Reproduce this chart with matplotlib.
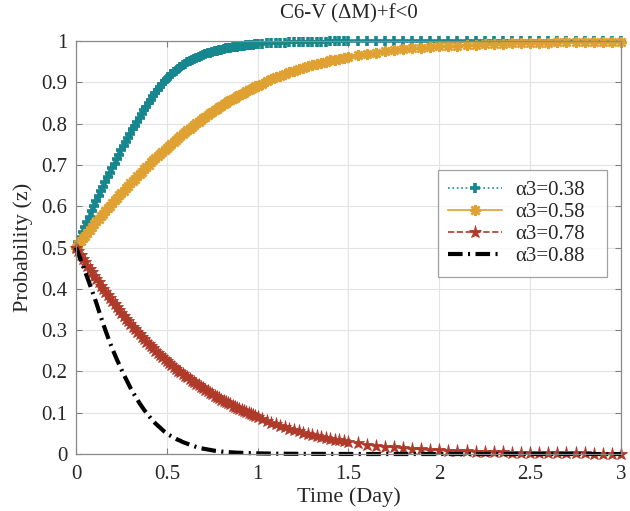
import numpy as np
import matplotlib
matplotlib.use("Agg")
import matplotlib.pyplot as plt
from matplotlib.ticker import FuncFormatter

plt.rcParams['font.family'] = ['Liberation Serif', 'DejaVu Serif']

title = "C6-V (ΔM)+f<0"
xlabel = "Time (Day)"
ylabel = "Probability (z)"
labels = ["α3=0.38", "α3=0.58", "α3=0.78", "α3=0.88"]

t = [0.0, 0.0125, 0.025, 0.0375, 0.05, 0.0625, 0.075, 0.0875, 0.1, 0.1125,
     0.125, 0.1375, 0.15, 0.1625, 0.175, 0.1875, 0.2, 0.2125, 0.225, 0.2375,
     0.25, 0.2625, 0.275, 0.2875, 0.3, 0.3125, 0.325, 0.3375, 0.35, 0.3625,
     0.375, 0.3875, 0.4, 0.4125, 0.425, 0.4375, 0.45, 0.4625, 0.475, 0.4875,
     0.5, 0.5125, 0.525, 0.5375, 0.55, 0.5625, 0.575, 0.5875, 0.6, 0.6125,
     0.625, 0.6375, 0.65, 0.6625, 0.675, 0.6875, 0.7, 0.7125, 0.725, 0.7375,
     0.75, 0.7625, 0.775, 0.7875, 0.8, 0.8125, 0.825, 0.8375, 0.85, 0.8625,
     0.875, 0.8875, 0.9, 0.9125, 0.925, 0.9375, 0.95, 0.9625, 0.975, 0.9875,
     1.0, 1.025, 1.05, 1.075, 1.1, 1.125, 1.15, 1.175, 1.2, 1.225,
     1.25, 1.275, 1.3, 1.325, 1.35, 1.375, 1.4, 1.425, 1.45, 1.475,
     1.5, 1.55, 1.6, 1.65, 1.7, 1.75, 1.8, 1.85, 1.9, 1.95,
     2.0, 2.05, 2.1, 2.15, 2.2, 2.25, 2.3, 2.35, 2.4, 2.45,
     2.5, 2.55, 2.6, 2.65, 2.7, 2.75, 2.8, 2.85, 2.9, 2.95, 3.0]

z_038 = [0.5, 0.5125, 0.525, 0.5375, 0.55, 0.5625, 0.575, 0.5875, 0.6, 0.612,
         0.624, 0.636, 0.647, 0.659, 0.67, 0.681, 0.692, 0.703, 0.714, 0.725,
         0.736, 0.746, 0.756, 0.766, 0.776, 0.786, 0.795, 0.805, 0.814, 0.823,
         0.832, 0.841, 0.85, 0.858, 0.866, 0.874, 0.882, 0.889, 0.896, 0.902,
         0.908, 0.914, 0.919, 0.924, 0.928, 0.933, 0.937, 0.941, 0.944, 0.948,
         0.951, 0.954, 0.956, 0.959, 0.961, 0.964, 0.966, 0.968, 0.970, 0.972,
         0.973, 0.975, 0.976, 0.978, 0.979, 0.981, 0.982, 0.983, 0.984, 0.985,
         0.986, 0.9865, 0.987, 0.988, 0.989, 0.9895, 0.990, 0.9905, 0.991, 0.9915,
         0.992, 0.993, 0.994, 0.9945, 0.995, 0.9955, 0.996, 0.9965, 0.997, 0.9972,
         0.9975, 0.9978, 0.998, 0.9982, 0.9985, 0.9987, 0.999, 0.999, 0.999, 0.9992,
         0.9993, 0.9995, 0.9996, 0.9997, 0.9998, 0.9998, 0.9999, 0.9999, 0.9999, 0.9999,
         1.0, 1.0, 1.0, 1.0, 1.0, 1.0, 1.0, 1.0, 1.0, 1.0,
         1.0, 1.0, 1.0, 1.0, 1.0, 1.0, 1.0, 1.0, 1.0, 1.0, 1.0]

z_058 = [0.5, 0.508, 0.515, 0.522, 0.529, 0.536, 0.543, 0.55, 0.556, 0.563,
         0.569, 0.576, 0.582, 0.589, 0.595, 0.601, 0.607, 0.614, 0.62, 0.626,
         0.632, 0.638, 0.644, 0.65, 0.655, 0.661, 0.667, 0.673, 0.678, 0.684,
         0.689, 0.695, 0.70, 0.706, 0.711, 0.716, 0.721, 0.726, 0.731, 0.736,
         0.741, 0.746, 0.751, 0.756, 0.761, 0.766, 0.770, 0.775, 0.779, 0.784,
         0.788, 0.792, 0.796, 0.801, 0.805, 0.809, 0.813, 0.817, 0.821, 0.825,
         0.828, 0.832, 0.836, 0.840, 0.843, 0.847, 0.850, 0.854, 0.857, 0.860,
         0.863, 0.866, 0.869, 0.872, 0.875, 0.878, 0.881, 0.884, 0.887, 0.890,
         0.892, 0.897, 0.902, 0.907, 0.912, 0.916, 0.920, 0.924, 0.928, 0.932,
         0.935, 0.939, 0.942, 0.945, 0.947, 0.950, 0.953, 0.955, 0.957, 0.960,
         0.962, 0.965, 0.969, 0.972, 0.975, 0.977, 0.980, 0.982, 0.984, 0.985,
         0.987, 0.988, 0.989, 0.990, 0.991, 0.992, 0.993, 0.9935, 0.994, 0.9948,
         0.9953, 0.9958, 0.9962, 0.9966, 0.997, 0.9973, 0.9976, 0.9978, 0.998, 0.9982, 0.9984]

z_078 = [0.5, 0.491, 0.482, 0.473, 0.465, 0.456, 0.448, 0.44, 0.432, 0.424,
         0.416, 0.408, 0.40, 0.392, 0.385, 0.377, 0.37, 0.363, 0.356, 0.349,
         0.342, 0.335, 0.328, 0.321, 0.315, 0.308, 0.302, 0.296, 0.29, 0.284,
         0.278, 0.272, 0.267, 0.261, 0.256, 0.25, 0.245, 0.24, 0.235, 0.23,
         0.225, 0.22, 0.216, 0.211, 0.207, 0.202, 0.198, 0.194, 0.19, 0.186,
         0.182, 0.178, 0.174, 0.17, 0.166, 0.162, 0.159, 0.155, 0.152, 0.148,
         0.145, 0.141, 0.138, 0.135, 0.132, 0.129, 0.126, 0.123, 0.12, 0.117,
         0.114, 0.111, 0.109, 0.106, 0.104, 0.101, 0.099, 0.096, 0.094, 0.091,
         0.089, 0.084, 0.080, 0.076, 0.072, 0.068, 0.065, 0.061, 0.058, 0.055,
         0.052, 0.049, 0.046, 0.044, 0.041, 0.039, 0.037, 0.035, 0.033, 0.031,
         0.029, 0.026, 0.023, 0.020, 0.018, 0.016, 0.014, 0.0125, 0.011, 0.010,
         0.009, 0.008, 0.007, 0.0062, 0.0055, 0.0049, 0.0043, 0.0038, 0.0034, 0.003,
         0.0027, 0.0024, 0.0021, 0.0019, 0.0017, 0.0015, 0.0013, 0.0012, 0.0011, 0.001, 0.0009]

z_088 = [0.5, 0.486, 0.471, 0.457, 0.442, 0.427, 0.412, 0.397, 0.381, 0.365,
         0.348, 0.331, 0.315, 0.299, 0.284, 0.269, 0.255, 0.242, 0.229, 0.217,
         0.205, 0.193, 0.182, 0.171, 0.16, 0.15, 0.141, 0.132, 0.123, 0.115,
         0.107, 0.1, 0.093, 0.086, 0.08, 0.074, 0.069, 0.064, 0.059, 0.054,
         0.05, 0.046, 0.043, 0.04, 0.037, 0.034, 0.032, 0.029, 0.027, 0.025,
         0.023, 0.021, 0.019, 0.017, 0.016, 0.014, 0.013, 0.012, 0.011, 0.01,
         0.009, 0.008, 0.0075, 0.0068, 0.006, 0.0055, 0.005, 0.0046, 0.0042, 0.0038,
         0.0035, 0.0032, 0.003, 0.0027, 0.0024, 0.0022, 0.002, 0.0018, 0.0017, 0.0016,
         0.0015, 0.0013, 0.0011, 0.001, 0.0008, 0.0007, 0.0006, 0.0006, 0.0005, 0.0005,
         0.0004, 0.0004, 0.0003, 0.0003, 0.0002, 0.0002, 0.0002, 0.0002, 0.0001, 0.0001,
         0.0001, 0.0, 0.0, 0.0, 0.0, 0.0, 0.0, 0.0, 0.0, 0.0,
         0.0, 0.0, 0.0, 0.0, 0.0, 0.0, 0.0, 0.0, 0.0, 0.0,
         0.0, 0.0, 0.0, 0.0, 0.0, 0.0, 0.0, 0.0, 0.0, 0.0, 0.0]

xticks = [0, 0.5, 1, 1.5, 2, 2.5, 3]
yticks = [0, 0.1, 0.2, 0.3, 0.4, 0.5, 0.6, 0.7, 0.8, 0.9, 1.0]

teal = "#16878f"
gold = "#e0a133"
red = "#b03a2a"

fig = plt.figure(figsize=(6.3, 5.11), dpi=100)
ax = fig.add_axes([0.1206, 0.1115, 0.8651, 0.8083])

ax.plot(t, z_038, linestyle=':', color=teal, marker='+', markersize=7.5,
        markeredgewidth=2.6, linewidth=1.2, label=labels[0], clip_on=False)
ax.plot(t, z_058, linestyle='-', color=gold, marker=(8, 2, 0), markersize=8,
        markeredgewidth=1.8, linewidth=1.2, label=labels[1], clip_on=False)
ax.plot(t, z_078, linestyle='--', color=red, marker='*', markersize=9.5,
        markeredgewidth=0.6, linewidth=1.2, label=labels[2], clip_on=False)
ax.plot(t, z_088, color='black', linewidth=3, dashes=(3.5, 1.3, 0.5, 1.3),
        label=labels[3], clip_on=False)

ax.set_xlim(0, 3)
ax.set_ylim(0, 1)
ax.set_xticks(xticks)
ax.set_yticks(yticks)
fmt = FuncFormatter(lambda v, p: ('%g' % v))
ax.xaxis.set_major_formatter(fmt)
ax.yaxis.set_major_formatter(fmt)
ax.grid(True, color='#e3e3e3', linewidth=0.8)
ax.set_axisbelow(True)
ax.tick_params(direction='in', top=True, right=True, length=4, width=0.8,
               colors='#808080', labelcolor='#262626', labelsize=15)
ax.tick_params(axis='x', pad=8)
ax.tick_params(axis='y', pad=6)
for s in ax.spines.values():
    s.set_color('#8a8a8a')
    s.set_linewidth(0.9)

ax.set_title(title, fontsize=15, color='#262626', pad=16)
ax.set_xlabel(xlabel, fontsize=16, color='#262626', labelpad=2)
ax.set_ylabel(ylabel, fontsize=16, color='#262626', labelpad=6)

leg = ax.legend(loc='upper left', bbox_to_anchor=(0.664, 0.688, 0.31, 0.0),
                mode='expand', fontsize=15,
                frameon=True, fancybox=False, handlelength=2.6, borderpad=0.5,
                labelspacing=0.12, handletextpad=0.6, borderaxespad=0)
leg.get_frame().set_edgecolor('#8a8a8a')
leg.get_frame().set_linewidth(0.9)
for txt in leg.get_texts():
    txt.set_color('#262626')

fig.savefig("out.png", dpi=100)
